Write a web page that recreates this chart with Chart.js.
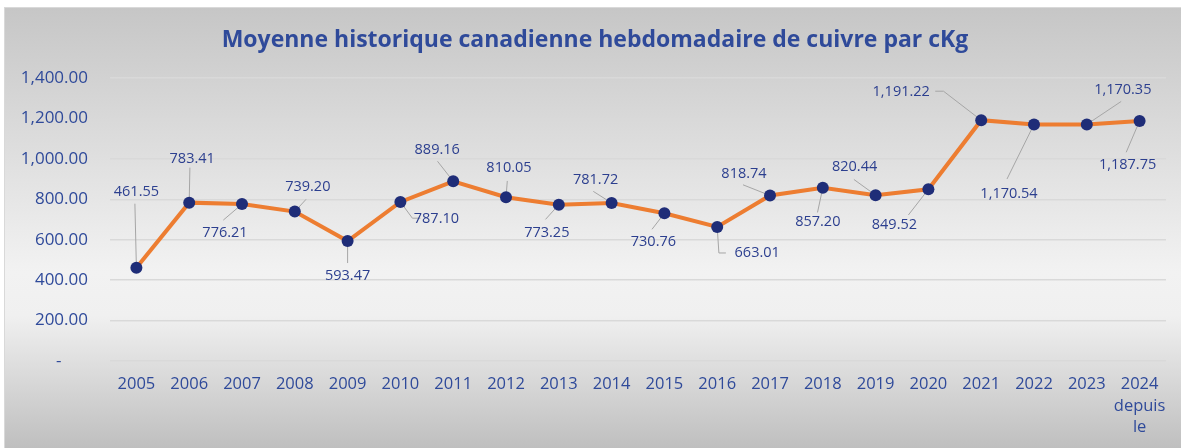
<!DOCTYPE html>
<html>
<head>
<meta charset="utf-8">
<script src="https://cdn.jsdelivr.net/npm/chart.js@4.4.1/dist/chart.umd.min.js"></script>
<style>
  html, body { margin: 0; padding: 0; background: #fff; }
  #wrap { width: 1181px; height: 448px; position: relative; }
</style>
</head>
<body>
<div id="wrap"><canvas id="cuivre"></canvas></div>
<script>
// data
const years = ['2005', '2006', '2007', '2008', '2009', '2010', '2011', '2012', '2013', '2014',
  '2015', '2016', '2017', '2018', '2019', '2020', '2021', '2022', '2023', ['2024', 'depuis', 'le']];
const prices = [461.55, 783.41, 776.21, 739.20, 593.47, 787.10, 889.16, 810.05, 773.25, 781.72,
  730.76, 663.01, 818.74, 857.20, 820.44, 849.52, 1191.22, 1170.54, 1170.35, 1187.75];
const yTicks = [0, 200, 400, 600, 800, 1000, 1200, 1400];
const titleText = 'Moyenne historique canadienne hebdomadaire de cuivre par cKg';

// label placement (px, relative to each point): text centre, leader start, optional elbow
const labelPos = [
  [0, -76], [3, -44], [-17, 29], [13, -25], [0, 35], [36, 17], [-16, -31], [3, -29], [-12, 28], [-16, -23],
  [-11, 29], [40, 26], [-26, -22], [-5, 34], [-21, -28], [-34, 36], [-80, -28], [-25, 69], [36, -35], [-12, 44]
];
const leaderFrom = [
  [-1.5, -64], [0.7, -35], [-18.7, 16], [11.3, -12.3], [0, 22], [20, 16.3], [-15.7, -20], [1.3, -16.3], [-13.3, 14.7], [-18.3, -11.6],
  [-12.4, 16], [8.7, 26], [-27, -10.7], [-5.3, 24.7], [-21.7, -15.7], [-20, 25.7], [-46, -29], [-27, 54.6], [34.4, -23], [-13.4, 31.4]
];
const leaderElbow = { 5: [12, 16.3], 11: [1.7, 26], 16: [-37.7, -29] };

const BLUE = '#2f4a9a';
const fmt = v => v.toLocaleString('en-US', { minimumFractionDigits: 2, maximumFractionDigits: 2 });

const backdrop = {
  id: 'backdrop',
  beforeDraw(chart) {
    const c = chart.ctx;
    c.save();
    const g = c.createLinearGradient(0, 7, 0, 448);
    g.addColorStop(0, '#c6c6c6');
    g.addColorStop(0.6, '#f2f2f2');
    g.addColorStop(0.7, '#f0f0f0');
    g.addColorStop(1, '#bfbfbf');
    c.fillStyle = g;
    c.fillRect(4, 7, 1177, 441);
    c.strokeStyle = '#d9d9d9';
    c.lineWidth = 1;
    c.strokeRect(4.5, 7.5, 1180, 445);
    c.fillStyle = BLUE;
    c.font = 'bold 23px "Open Sans"';
    c.textAlign = 'center';
    c.textBaseline = 'middle';
    c.fillText(titleText, 595, 40);
    c.restore();
  }
};

const valueLabels = {
  id: 'valueLabels',
  beforeDatasetsDraw(chart) {
    const c = chart.ctx;
    const pts = chart.getDatasetMeta(0).data;
    c.save();
    c.strokeStyle = '#a6a6a6';
    c.lineWidth = 1;
    pts.forEach((p, i) => {
      c.beginPath();
      c.moveTo(p.x + leaderFrom[i][0], p.y + leaderFrom[i][1]);
      if (leaderElbow[i]) c.lineTo(p.x + leaderElbow[i][0], p.y + leaderElbow[i][1]);
      c.lineTo(p.x, p.y);
      c.stroke();
    });
    c.restore();
  },
  afterDatasetsDraw(chart) {
    const c = chart.ctx;
    const pts = chart.getDatasetMeta(0).data;
    c.save();
    c.fillStyle = '#2c3f8f';
    c.font = '14.5px "Open Sans"';
    c.textAlign = 'center';
    c.textBaseline = 'middle';
    pts.forEach((p, i) => {
      c.fillText(fmt(prices[i]), p.x + labelPos[i][0], p.y + labelPos[i][1]);
    });
    c.restore();
  }
};

new Chart(document.getElementById('cuivre'), {
  type: 'line',
  data: {
    labels: years,
    datasets: [{
      data: prices,
      borderColor: '#ed7d31',
      borderWidth: 4,
      tension: 0,
      pointRadius: 6,
      pointBackgroundColor: '#1f2d78',
      pointBorderColor: '#1f2d78',
      pointBorderWidth: 0
    }]
  },
  options: {
    responsive: true,
    maintainAspectRatio: false,
    animation: false,
    layout: { padding: { left: 0, right: 15, top: 78, bottom: 0 } },
    plugins: { legend: { display: false }, tooltip: { enabled: false }, title: { display: false } },
    scales: {
      x: {
        offset: true,
        grid: { display: false },
        border: { display: false },
        ticks: { color: BLUE, font: { family: 'Open Sans', size: 16.5, lineHeight: 1.3 }, maxRotation: 0, autoSkip: false, padding: 5 },
        afterFit: s => { s.height = 87; }
      },
      y: {
        min: 0,
        max: 1400,
        afterBuildTicks: s => { s.ticks = yTicks.map(v => ({ value: v })); },
        grid: { color: '#d9d9d9', lineWidth: 1.5, drawTicks: false },
        border: { display: false },
        ticks: {
          color: BLUE,
          font: { family: 'Open Sans', size: 17 },
          padding: 22,
          callback: v => v === 0 ? '-      ' : fmt(v)
        },
        afterFit: s => { s.width = 110; }
      }
    }
  },
  plugins: [backdrop, valueLabels]
});
</script>
</body>
</html>
